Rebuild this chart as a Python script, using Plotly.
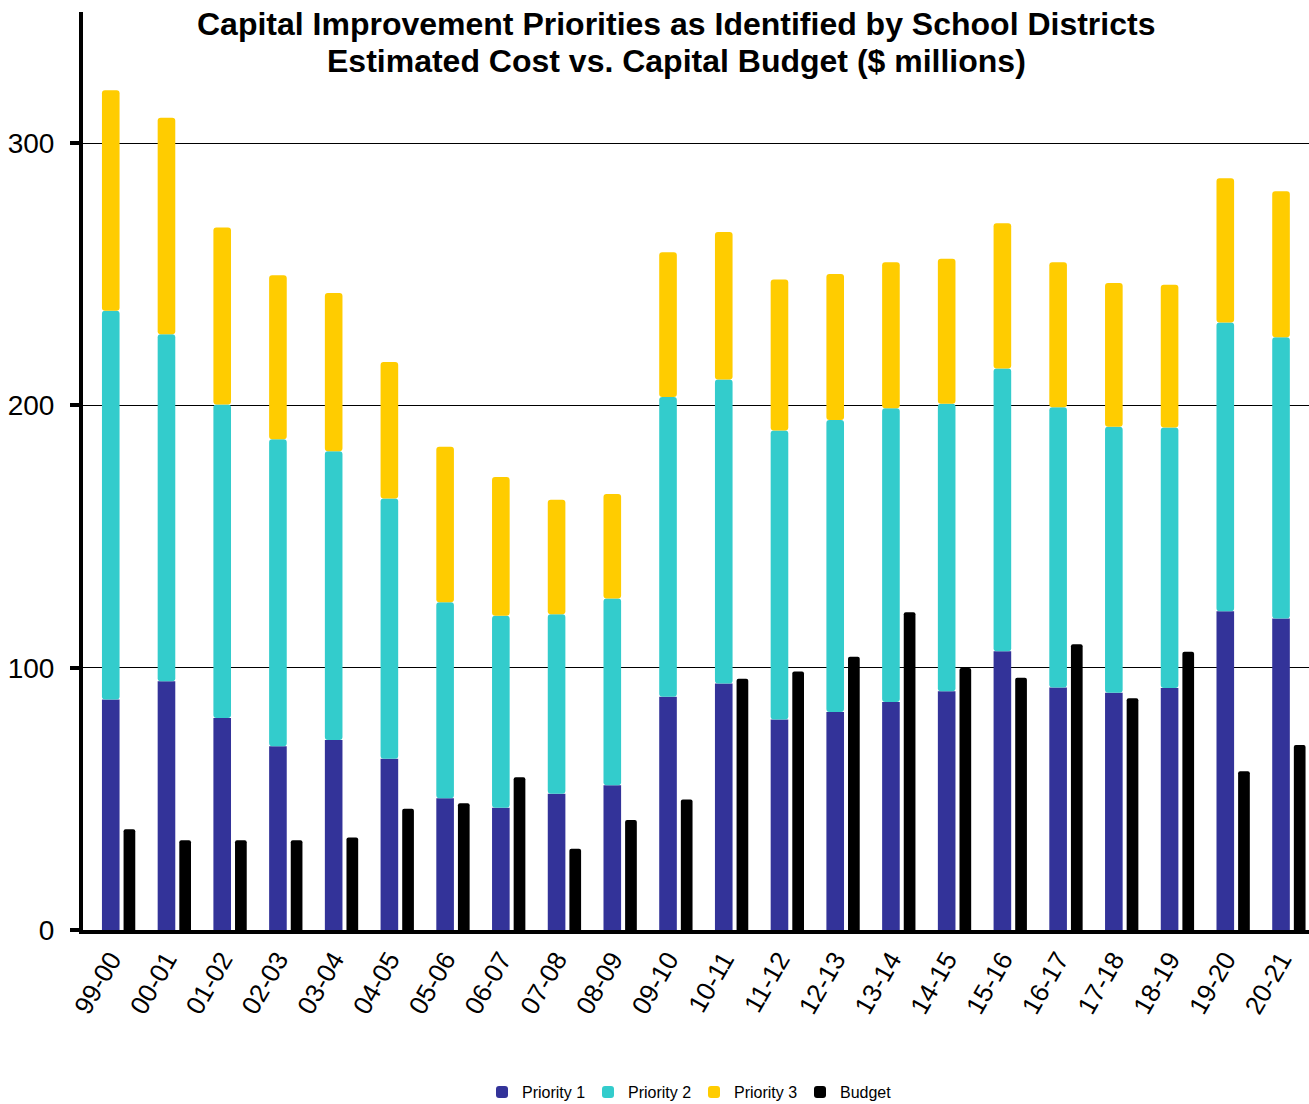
import plotly.graph_objects as go

# School years on the category axis
years = ["99-00", "00-01", "01-02", "02-03", "03-04", "04-05", "05-06", "06-07",
         "07-08", "08-09", "09-10", "10-11", "11-12", "12-13", "13-14", "14-15",
         "15-16", "16-17", "17-18", "18-19", "19-20", "20-21"]

# Estimated cost by priority ($ millions), stacked from Priority 1 upward
priority_1 = [87.9, 94.8, 80.8, 70.1, 72.4, 65.3, 50.2, 46.6, 51.9, 55.2, 88.9,
              94.0, 80.3, 83.1, 86.9, 91.0, 106.3, 92.5, 90.5, 92.3, 121.5, 118.8]
priority_2 = [148.2, 132.3, 119.6, 117.0, 110.1, 99.2, 74.8, 73.2, 68.5, 71.2, 114.3,
              115.9, 110.1, 111.3, 112.0, 109.6, 107.8, 106.8, 101.4, 99.3, 110.1, 107.2]
priority_3 = [84.1, 82.6, 67.4, 62.5, 60.4, 52.1, 59.2, 52.9, 43.6, 39.8, 55.2,
              56.2, 57.6, 55.7, 55.7, 55.3, 55.4, 55.3, 54.8, 54.4, 55.0, 55.7]

# Capital budget ($ millions)
budget = [38.4, 34.2, 34.2, 34.2, 35.3, 46.2, 48.3, 58.2, 31.0, 41.9, 49.8,
          95.8, 98.6, 104.2, 121.1, 99.9, 96.2, 108.9, 88.4, 106.1, 60.5, 70.5]

y_ticks = [0, 100, 200, 300]

title_lines = ["Capital Improvement Priorities as Identified by School Districts",
               "Estimated Cost vs. Capital Budget ($ millions)"]

FONT = "Liberation Sans, Arial, sans-serif"
C_P1, C_P2, C_P3, C_BUD = "#333399", "#33CCCC", "#FFCC00", "#000000"

W, H = 1309, 1104
M_L, M_R, M_T, M_B = 83, 0, 12, 174
PLOT_H = H - M_T - M_B

base_2 = priority_1
base_3 = [a + b for a, b in zip(priority_1, priority_2)]

STACK_W, STACK_OFF = 0.316, -0.16
BUD_W, BUD_OFF = 0.21, 0.228

fig = go.Figure()
fig.add_trace(go.Bar(name="Priority 1", x=years, y=priority_1,
                     width=STACK_W, offset=STACK_OFF,
                     marker=dict(color=C_P1, cornerradius=3, line=dict(width=0))))
fig.add_trace(go.Bar(name="Priority 2", x=years, y=priority_2, base=base_2,
                     width=STACK_W, offset=STACK_OFF,
                     marker=dict(color=C_P2, cornerradius=3, line=dict(width=0))))
fig.add_trace(go.Bar(name="Priority 3", x=years, y=priority_3, base=base_3,
                     width=STACK_W, offset=STACK_OFF,
                     marker=dict(color=C_P3, cornerradius=3, line=dict(width=0))))
fig.add_trace(go.Bar(name="Budget", x=years, y=budget,
                     width=BUD_W, offset=BUD_OFF,
                     marker=dict(color=C_BUD, cornerradius=2, line=dict(width=0))))


def paper_y(px):
    """Convert a pixel row (from the top of the page) to paper y."""
    return (H - M_B - px) / PLOT_H


# Two-line bold title
for line, py in zip(title_lines, [24, 61]):
    fig.add_annotation(
        text=f"<b>{line}</b>", showarrow=False,
        xref="paper", x=(676 - M_L) / (W - M_L - M_R), xanchor="center",
        yref="paper", y=paper_y(py), yanchor="middle",
        font=dict(family=FONT, size=32, color="black"),
    )

fig.update_layout(
    width=W, height=H,
    barmode="overlay",
    paper_bgcolor="white", plot_bgcolor="white",
    margin=dict(l=M_L, r=M_R, t=M_T, b=M_B),
    font=dict(family=FONT, color="black"),
    legend=dict(
        orientation="h",
        x=694 / W, xref="container", xanchor="center",
        y=1 - 1092 / H, yref="container", yanchor="middle",
        font=dict(family=FONT, size=16, color="black"),
        bgcolor="rgba(0,0,0,0)",
        itemwidth=30,
        entrywidth=61, entrywidthmode="pixels",
    ),
    showlegend=True,
)

fig.update_xaxes(
    type="category",
    range=[-0.5, len(years) - 0.5],
    showline=True, linecolor="black", linewidth=4,
    showgrid=False, ticks="",
    tickangle=-60,
    tickfont=dict(family=FONT, size=26, color="black"),
    zeroline=False,
)
fig.update_yaxes(
    range=[0, 350],
    tickvals=y_ticks, ticktext=[str(v) for v in y_ticks],
    showline=True, linecolor="black", linewidth=4,
    showgrid=True, gridcolor="black", gridwidth=1,
    ticks="outside", ticklen=9, tickwidth=4, tickcolor="black",
    tickfont=dict(family=FONT, size=28, color="black"),
    ticklabelstandoff=10,
    zeroline=False,
)

fig.write_html("out.html")
